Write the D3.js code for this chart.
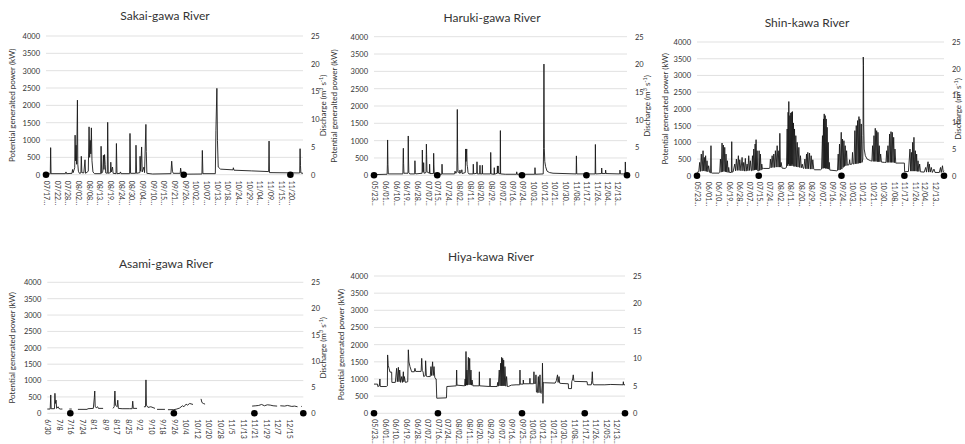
<!DOCTYPE html>
<html>
<head>
<meta charset="utf-8">
<script src="https://cdn.jsdelivr.net/npm/d3@7"></script>
<style>
  html, body { margin: 0; padding: 0; background: #fff; }
  svg { display: block; }
</style>
</head>
<body>
<svg id="chart" width="965" height="444"></svg>
<script>
// ---------------- DATA ----------------
const riverTitles = ["Sakai-gawa River", "Haruki-gawa River", "Shin-kawa River", "Asami-gawa River", "Hiya-kawa River"];
const leftAxisTitles = ["Potential generalted power (kW)", "Potential generalted power (kW)", "Potential generated power (kW)", "Potential generated power (kW)", "Potential generated power (kW)"];
const leftTicks = [0, 500, 1000, 1500, 2000, 2500, 3000, 3500, 4000];
const rightTicks = [0, 5, 10, 15, 20, 25];

const sakaiTicks = ["07/17 00:00","07/22 12:00","07/28 00:00","08/02 12:00","08/08 00:00","08/13 12:00","08/19 00:00","08/24 12:00","08/30 00:00","09/04 12:00","09/10 00:00","09/15 12:00","09/21 00:00","09/26 12:00","10/02 00:00","10/07 12:00","10/13 00:00","10/18 12:00","10/24 00:00","10/29 12:00","11/04 00:00","11/09 12:00","11/15 00:00","11/20 12:00"];
const harukiTicks = ["05/23","06/01","06/10","06/19","06/28","07/07","07/15","07/24","08/02","08/11","08/20","08/29","09/07","09/16","09/24","10/03","10/12","10/21","10/30","11/08","11/17","11/26","12/04","12/13"];
const shinTicks = ["05/23","06/01","06/10","06/19","06/28","07/07","07/15","07/24","08/02","08/11","08/20","08/29","09/07","09/16","09/24","10/03","10/12","10/21","10/30","11/08","11/17","11/26","12/04","12/13"];
const asamiTicks = ["6/30","7/8","7/16","7/24","8/1","8/9","8/17","8/25","9/2","9/10","9/18","9/26","10/4","10/12","10/20","10/28","11/5","11/13","11/21","11/29","12/7","12/15"];
const hiyaTicks = ["05/23","06/01","06/10","06/19","06/28","07/07","07/16","07/24","08/02","08/11","08/20","08/29","09/07","09/16","09/25","10/03","10/12","10/21","10/30","11/08","11/17","11/26","12/05","12/13"];

// sampling-day markers (discharge = 0)
const sakaiDots = ["07/17","09/26","11/20"];
const harukiDots = ["05/23","07/15","09/24","11/17","12/21"];
const shinDots = ["05/23","07/15","09/24","11/17","12/21"];
const asamiDots = ["7/16","9/26","11/21","12/25"];
const hiyaDots = ["05/23","07/16","09/25","11/17","12/21"];

// power series: [days since first date, kW]
const sakaiPower = [[0,20],[2.2,25],[2.4,780],[2.6,30],[10,30],[10.3,80],[10.6,30],[13.4,40],[13.7,150],[14,60],[14.8,200],[15.0,1140],[15.2,400],[15.5,850],[15.8,300],[16.2,2150],[16.4,300],[16.7,100],[17.2,40],[18.0,50],[18.2,530],[18.5,60],[19.5,50],[20.1,430],[20.4,40],[21.8,100],[22.2,1380],[22.5,500],[22.8,990],[23.1,600],[23.4,1350],[23.7,400],[24.2,80],[25,30],[28.2,30],[28.4,820],[28.7,40],[29.3,100],[29.6,560],[29.9,150],[30.2,580],[30.5,300],[30.8,50],[31.6,40],[31.8,1510],[32.1,40],[33.2,60],[33.4,360],[33.7,80],[34.3,220],[34.6,40],[36.1,30],[36.3,900],[36.6,30],[38.2,40],[38.4,80],[38.7,30],[43.1,30],[43.3,1190],[43.6,40],[46.2,40],[46.4,850],[46.7,40],[48.4,60],[48.5,530],[48.8,100],[49.3,800],[49.6,80],[50.5,220],[50.8,60],[51.5,1450],[51.7,670],[52,40],[55,20],[64.4,30],[64.8,390],[65.2,100],[65.6,40],[69.2,40],[69.4,190],[69.8,40],[70.6,15],[80.4,20],[80.6,700],[80.9,30],[87.3,30],[87.6,1280],[88.1,2490],[88.4,990],[88.8,220],[90,160],[96.4,140],[96.6,200],[96.9,130],[106,110],[114.8,90],[115,970],[115.2,60],[130.8,50],[131,750],[131.2,270],[131.4,50],[132.5,40]];

const harukiPower = [[0,20],[11,30],[11.2,300],[11.4,1020],[11.7,300],[12,40],[24.2,40],[24.4,520],[24.6,780],[24.8,350],[25.1,60],[28.5,60],[28.7,1135],[28.9,500],[29.2,80],[30,40],[34.1,40],[34.3,420],[34.6,80],[35,40],[40.3,60],[40.5,730],[40.8,100],[41.4,100],[41.6,365],[41.9,60],[43.6,80],[43.9,900],[44.1,600],[44.4,100],[46.4,60],[46.6,320],[46.9,50],[49.8,50],[50,635],[50.2,300],[50.5,30],[56.8,30],[57,320],[57.3,40],[67.5,40],[67.9,120],[68.5,60],[69.4,80],[69.6,650],[69.8,1900],[70.1,500],[70.4,100],[71.8,60],[72,150],[72.3,60],[73.4,100],[73.6,160],[73.9,50],[76.5,80],[76.8,760],[77.1,400],[77.4,590],[77.7,760],[78,300],[78.3,250],[78.8,80],[79.5,40],[83,40],[83.2,320],[83.5,40],[86.1,60],[86.3,390],[86.6,40],[88.6,40],[88.8,290],[89,40],[90.6,40],[90.8,290],[91,40],[97.6,40],[97.8,660],[98.1,40],[100.6,30],[100.8,220],[101,30],[103.2,60],[103.4,270],[103.6,60],[104.1,270],[104.3,60],[105.7,40],[105.9,1290],[106.1,40],[110,30],[119.4,30],[119.6,100],[119.9,30],[134.7,30],[134.9,220],[135.2,30],[141.8,40],[142.1,780],[142.4,3210],[142.7,780],[143.1,400],[143.8,250],[145,120],[147,80],[150,60],[169.4,40],[169.6,560],[169.9,40],[185.3,40],[185.5,890],[185.8,40],[190.6,50],[190.8,210],[191.1,50],[193.9,50],[194.1,150],[194.4,50],[205.9,40],[206.1,150],[206.4,40],[210.4,40],[210.6,385],[210.9,60],[212,40]];

const shinPower = [[0,100],[1.5,120],[2.3,400],[2.9,130],[3.7,650],[4.4,140],[5.2,750],[5.7,150],[6.3,550],[6.9,140],[7.4,600],[8.0,130],[8.6,450],[9.3,120],[10.0,300],[10.9,100],[11.7,90],[12,900],[12.3,90],[13,80],[19,80],[19.5,100],[20.1,500],[20.8,110],[21.5,980],[22.0,120],[22.6,920],[23.2,130],[23.8,850],[24.4,120],[24.9,650],[25.5,110],[26.1,450],[26.7,100],[27.2,250],[27.8,100],[29.5,100],[29.8,1020],[30.1,110],[31,120],[32.4,350],[33.1,150],[33.8,500],[34.6,160],[35.5,600],[36.1,160],[36.7,480],[37.7,150],[38.7,550],[39.4,150],[40.1,400],[40.8,140],[41.5,520],[42.2,140],[43,350],[43.7,150],[44.4,600],[45.1,160],[45.8,450],[46.6,150],[47.0,150],[47.6,600],[48.1,160],[48.7,800],[49.3,170],[49.9,950],[50.3,180],[50.7,1080],[51.1,180],[51.6,750],[52.1,150],[53.0,150],[53.3,750],[53.8,160],[54.4,650],[55,170],[55.6,350],[56.2,200],[57,220],[62,220],[62.5,230],[63,500],[63.7,240],[64.5,600],[65.2,250],[65.9,650],[66.6,250],[67.3,750],[68,260],[68.8,900],[69.5,260],[70.2,750],[70.7,260],[71.1,1270],[71.6,260],[72.2,400],[73,230],[75.5,220],[76.8,250],[77.4,1400],[77.8,300],[78.2,1900],[78.5,350],[78.8,2220],[79.2,300],[79.7,1800],[80.1,300],[80.5,1880],[80.9,300],[81.4,1900],[81.6,350],[81.9,1920],[82.3,300],[82.8,1580],[83.2,280],[83.7,1400],[84.2,280],[84.8,1200],[85.4,270],[86,1000],[86.7,260],[87.4,850],[88.1,250],[88.8,600],[89.5,240],[90.3,350],[91,230],[91.7,220],[92.6,500],[93.3,210],[94,650],[94.5,210],[95.1,700],[95.8,210],[96.6,680],[97.3,200],[98,600],[98.7,200],[99.4,480],[100.2,200],[101,180],[106,180],[106.9,200],[107.7,1200],[108.1,220],[108.6,1700],[108.9,230],[109.2,1850],[109.6,230],[110,1800],[110.4,220],[110.9,1700],[111.3,220],[111.7,1450],[112.2,210],[112.6,1000],[113.1,200],[113.5,400],[114,170],[120,150],[120.6,160],[121.2,650],[121.8,170],[122.3,950],[123,180],[123.8,1300],[124.3,200],[124.9,1100],[125.5,250],[126.1,1050],[126.6,280],[127.2,900],[127.8,300],[128.4,750],[129,320],[130.5,330],[131,480],[131.5,340],[133,350],[133.5,700],[134,360],[134.8,350],[135.5,1350],[136.1,360],[136.7,1500],[137.2,360],[137.8,1650],[138.4,370],[139,1770],[139.4,380],[139.8,1700],[140.4,380],[141,1550],[141.6,400],[142.3,500],[142.5,1200],[142.7,3550],[142.9,3300],[143.1,1500],[143.5,800],[144.5,600],[146,500],[149,450],[150.1,440],[150.7,900],[151.3,430],[151.9,1200],[152.5,430],[153,1420],[153.6,430],[154.2,1350],[154.8,420],[155.3,1300],[155.9,420],[156.4,900],[157,420],[157.6,650],[158.3,410],[161,400],[162.2,400],[162.8,750],[163.3,400],[163.9,900],[164.6,400],[165.3,1250],[165.9,400],[166.5,1320],[167,400],[167.6,1300],[168.2,400],[168.8,1150],[169.4,390],[169.9,800],[170.6,380],[178,380],[178.2,120],[181.5,130],[182.8,800],[183.4,140],[184,700],[184.5,140],[185.1,1000],[185.6,140],[186.2,1150],[186.8,140],[187.4,750],[188,140],[188.5,650],[189.1,130],[189.7,450],[190.4,130],[191.1,350],[191.8,120],[195,110],[196.3,250],[197,110],[198.3,420],[198.8,110],[199.4,350],[200.2,110],[201.1,250],[202,100],[203.4,200],[204.3,100],[208,100],[209,250],[209.6,100],[210.7,300],[211.3,120],[212,150]];

const asamiPower = [[0,130],[2,130],[2.4,560],[2.7,140],[5,140],[5.3,610],[5.6,300],[6.1,400],[6.5,150],[7.5,200],[8,150],[9,130],[10.5,130],[11,null],[15.3,130],[17,130],[17.5,null],[21.3,120],[27.6,120],[28.3,140],[32,150],[32.7,480],[33,680],[33.3,200],[34,170],[35,200],[35.5,150],[38.8,150],[39.2,null],[45.7,150],[46.5,200],[47,680],[47.4,250],[48.5,200],[49,400],[49.4,150],[52,140],[57,140],[59,140],[59.4,370],[59.8,150],[62.4,150],[63,null],[67.2,200],[68.3,200],[68.6,1020],[68.9,250],[70,180],[72,200],[74.9,150],[75.5,null],[76.3,120],[81.8,120],[82.5,null],[83.9,110],[88,110],[90,130],[92,160],[94,230],[95,200],[96.5,280],[97.5,250],[99,300],[101.3,270],[101.8,null],[106.9,440],[107.5,330],[108.5,300],[109.7,280],[110,null],[142.4,220],[145,230],[147,240],[149,270],[151,230],[153,260],[155,250],[157,230],[159.8,220],[160.3,null],[162,230],[165,220],[167,240],[170,210],[172,220],[174,200],[175,null],[176.5,220],[177,200]];

const hiyaPower = [[0,850],[3,850],[3.2,780],[4.5,800],[5,1000],[5.3,780],[10.5,780],[11.3,800],[11.5,1700],[12,1400],[12.8,1300],[13.5,1200],[14.9,1200],[15.1,900],[18,900],[19.1,1310],[19.7,920],[20.6,1340],[21.1,920],[21.7,1260],[22.5,900],[23.4,1070],[24.1,900],[24.8,1210],[25.2,920],[25.6,1070],[26.5,900],[28.5,920],[29,1850],[29.5,1500],[30.4,1360],[31.8,1210],[34,1210],[34.6,1310],[35.2,1220],[39.8,1220],[40.3,1600],[40.8,1250],[41.5,1200],[42,1070],[43.3,1100],[43.6,1530],[44.2,1080],[45,1070],[47.5,1070],[48.1,1360],[48.6,1100],[49.5,1500],[50,1100],[50.7,1360],[51.3,1050],[52.1,1000],[52.5,1000],[53,440],[61.2,450],[61.5,780],[69.5,800],[69.8,1260],[70.1,820],[76.5,800],[77,1000],[77.3,800],[77.7,1800],[78.1,820],[78.5,1260],[79,820],[79.7,1630],[80.2,830],[80.8,1600],[81.3,830],[81.9,1260],[82.3,820],[82.8,970],[83.5,800],[88.8,800],[89,1210],[89.2,800],[97.8,780],[98,1020],[98.2,780],[104,780],[104.5,900],[105,790],[105.8,1260],[106.4,800],[107,1460],[107.4,800],[107.8,1630],[108.2,800],[108.7,1600],[109.1,800],[109.5,1550],[110,800],[110.6,1360],[111.3,790],[112,1070],[112.6,780],[113.4,780],[116,820],[120,830],[123.1,830],[123.3,1260],[123.5,850],[126,850],[126.1,970],[126.3,860],[131.5,860],[131.7,1020],[131.9,860],[134.8,860],[135.1,1210],[135.4,870],[136.5,870],[136.8,1120],[137.2,620],[138,600],[138.8,1070],[139.3,600],[140.2,1120],[140.6,600],[141.3,580],[141.6,600],[142,800],[142.3,1460],[142.5,1000],[142.7,290],[143,900],[144,890],[153,880],[154,950],[155,1120],[155.5,900],[156.3,1070],[156.8,880],[158,870],[164.1,860],[164.3,720],[166.8,720],[167,920],[167.8,1000],[168.3,1120],[168.8,950],[169.5,930],[180,920],[180.3,830],[183.5,830],[184,950],[184.4,1210],[184.8,880],[185.5,830],[195,830],[200,840],[210.4,830],[210.6,920],[210.9,830],[212,830]];

// ---------------- LAYOUT ----------------
const FONT = "Lato, 'Open Sans', 'Noto Sans', sans-serif";
const parseDT = d3.timeParse("%Y/%m/%d %H:%M");
const parseD = d3.timeParse("%Y/%m/%d");
const toDate = s => s.length > 6 ? parseDT("2015/" + s) : parseD("2015/" + s);

const panels = [
  { title: riverTitles[0], yTitle: leftAxisTitles[0], data: sakaiPower, ticks: sakaiTicks, dots: sakaiDots, start: "07/17 00:00", end: "11/26 12:00",
    x0: 46, x1: 303, yTop: 36, yBot: 174.7, titleX: 165, titleY: 20, leftTitleX: 12, rightTitle: true, trunc: true },
  { title: riverTitles[1], yTitle: leftAxisTitles[1], data: harukiPower, ticks: harukiTicks, dots: harukiDots, start: "05/23", end: "12/21",
    x0: 374, x1: 627, yTop: 36.7, yBot: 175.3, titleX: 492, titleY: 21.5, leftTitleX: 334, rightTitle: true, trunc: true },
  { title: riverTitles[2], yTitle: leftAxisTitles[2], data: shinPower, ticks: shinTicks, dots: shinDots, start: "05/23", end: "12/21",
    x0: 697, x1: 944, yTop: 42, yBot: 175.8, titleX: 807, titleY: 26.5, leftTitleX: 665, rightTitle: true, trunc: true },
  { title: riverTitles[3], yTitle: leftAxisTitles[3], data: asamiPower, ticks: asamiTicks, dots: asamiDots, start: "6/30", end: "12/25",
    x0: 47.3, x1: 303.3, yTop: 282.3, yBot: 413.3, titleX: 166, titleY: 268, leftTitleX: 12, rightTitle: true, trunc: false },
  { title: riverTitles[4], yTitle: leftAxisTitles[4], data: hiyaPower, ticks: hiyaTicks, dots: hiyaDots, start: "05/23", end: "12/21",
    x0: 374, x1: 625, yTop: 276, yBot: 413.3, titleX: 491, titleY: 261, leftTitleX: 341, rightTitle: false, trunc: true }
];

const svg = d3.select("#chart");

panels.forEach(p => {
  const t0 = toDate(p.start), t1 = toDate(p.end);
  const x = d3.scaleTime().domain([t0, t1]).range([p.x0, p.x1]);
  const y = d3.scaleLinear().domain([0, 4000]).range([p.yBot, p.yTop]);
  const y2 = d3.scaleLinear().domain([0, 25]).range([p.yBot, p.yTop]);
  const dayToDate = d => new Date(t0.getTime() + d * 864e5);
  const g = svg.append("g");

  // gridlines
  g.append("g").selectAll("line").data(leftTicks).join("line")
    .attr("x1", p.x0).attr("x2", p.x1)
    .attr("y1", d => y(d)).attr("y2", d => y(d))
    .attr("stroke", "#d9d9d9").attr("stroke-width", 0.8);

  // left axis
  const la = g.append("g").attr("transform", `translate(${p.x0},0)`)
    .call(d3.axisLeft(y).tickValues(leftTicks).tickSize(0).tickPadding(6).tickFormat(d3.format("d")));
  la.select(".domain").remove();
  la.selectAll("text").attr("font-family", FONT).attr("font-size", 7.5).attr("fill", "#333");

  // right axis
  const ra = g.append("g").attr("transform", `translate(${p.x1},0)`)
    .call(d3.axisRight(y2).tickValues(rightTicks).tickSize(0).tickPadding(8));
  ra.select(".domain").remove();
  ra.selectAll("text").attr("font-family", FONT).attr("font-size", 7.5).attr("fill", "#333");

  // x axis
  const tickDates = p.ticks.map(toDate);
  const xa = g.append("g").attr("transform", `translate(0,${p.yBot})`)
    .call(d3.axisBottom(x).tickValues(tickDates).tickSize(0)
      .tickFormat((d, i) => p.trunc ? p.ticks[i].slice(0, 5) + "..." : p.ticks[i]));
  xa.select(".domain").remove();
  xa.selectAll("text")
    .attr("font-family", FONT).attr("font-size", 7).attr("fill", "#333")
    .attr("text-anchor", "start")
    .attr("transform", "rotate(90)")
    .attr("x", 6).attr("y", 0).attr("dy", "0.35em");

  // line
  const line = d3.line()
    .defined(d => d[1] != null)
    .x(d => x(dayToDate(d[0])))
    .y(d => y(d[1]));
  g.append("path").datum(p.data)
    .attr("d", line)
    .attr("fill", "none").attr("stroke", "#1a1a1a").attr("stroke-width", 0.9)
    .attr("stroke-linejoin", "round");

  // dots
  g.append("g").selectAll("circle").data(p.dots).join("circle")
    .attr("cx", d => x(toDate(d))).attr("cy", y(0)).attr("r", 3.3).attr("fill", "#000");

  // title
  g.append("text").attr("x", p.titleX).attr("y", p.titleY)
    .attr("text-anchor", "middle").attr("font-family", FONT).attr("font-size", 12)
    .attr("fill", "#333").text(p.title);

  // left axis title
  const ym = (p.yTop + p.yBot) / 2;
  g.append("text").attr("transform", `translate(${p.leftTitleX},${ym}) rotate(-90)`)
    .attr("text-anchor", "middle").attr("dy", "0.35em")
    .attr("font-family", FONT).attr("font-size", 8).attr("fill", "#333")
    .text(p.yTitle);

  // right axis title
  if (p.rightTitle) {
    const rt = g.append("text").attr("transform", `translate(${Math.min(p.x1 + 20, 958)},${ym}) rotate(-90)`)
      .attr("text-anchor", "middle").attr("dy", "0.35em")
      .attr("font-family", FONT).attr("font-size", 8).attr("fill", "#333");
    rt.append("tspan").text("Discharge (m");
    rt.append("tspan").attr("dy", -3).attr("font-size", 5.5).text("3");
    rt.append("tspan").attr("dy", 3).text(" s");
    rt.append("tspan").attr("dy", -3).attr("font-size", 5.5).text("-1");
    rt.append("tspan").attr("dy", 3).text(")");
  }
});
</script>
</body>
</html>
